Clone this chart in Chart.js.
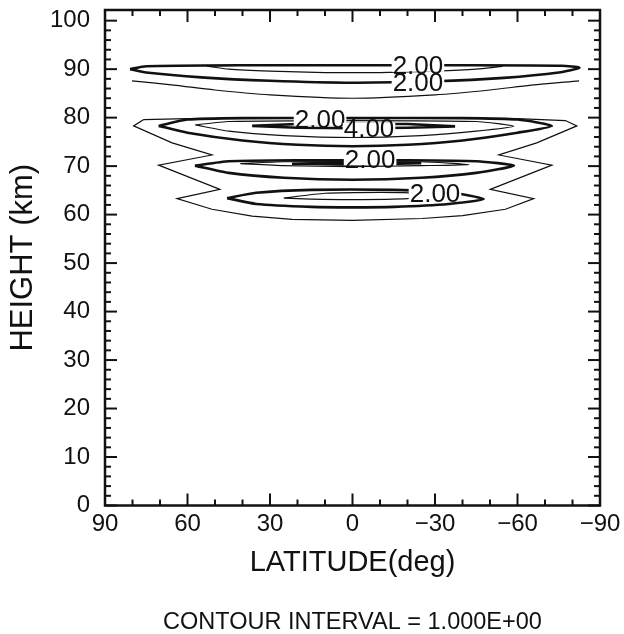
<!DOCTYPE html>
<html>
<head>
<meta charset="utf-8">
<script src="https://cdn.jsdelivr.net/npm/chart.js@4.4.1/dist/chart.umd.min.js"></script>
<style>
  body { margin: 0; background: #fff; }
</style>
</head>
<body>
<canvas id="chart" width="624" height="634"></canvas>
<script>
const FONT = "'Liberation Sans', Arial, sans-serif";
const INK = '#111';

// axis ticks
const latTicks = [90, 60, 30, 0, -30, -60, -90];
const latMinorStep = 10;
const heightTicks = [0, 10, 20, 30, 40, 50, 60, 70, 80, 90, 100];
const heightMinorStep = 2;

// contour lines, [latitude, height] pairs
// ~90 km layer
const upperLev1 = [[80.2, 87.6], [65, 86.7], [50, 85.7], [30, 84.7], [0, 84.0], [-30, 84.7], [-50, 85.7], [-65, 86.7], [-82.4, 87.6]];
const upperLev2 = [[80.9, 90.0], [75, 90.6], [40, 90.8], [0, 90.8], [-40, 90.8], [-76, 90.7], [-82.5, 90.3],
                   [-75, 89.3], [-55, 88.2], [-30, 87.5], [0, 87.2], [30, 87.6], [55, 88.3], [75, 89.3]];
const upperLev3 = [[53, 90.6], [40, 90.8], [0, 90.9], [-40, 90.8], [-54.4, 90.6],
                   [-45, 90.0], [-30, 89.6], [-10, 89.3], [10, 89.3], [30, 89.6], [45, 90.0]];

// 60-80 km layers, outer contour wraps all three
const lowerLev1 = [[75.9, 79.6], [60, 79.8], [30, 79.9], [0, 79.9], [-30, 79.9], [-60, 79.8], [-77.4, 79.4], [-81.6, 78.3],
                   [-67, 74.8], [-53.2, 72.3], [-72.5, 70.2], [-50.1, 65.2], [-65.9, 63.3], [-55.6, 61.1], [-40, 59.8],
                   [-25.3, 59.2], [0, 58.8], [22, 59.0], [36.5, 59.7], [51.1, 61.1], [63.8, 63.3], [48.2, 65.2],
                   [70.5, 70.2], [51.1, 72.3], [65.6, 74.8], [79.6, 78.3]];
const l78Lev2 = [[70.5, 78.3], [60, 79.6], [40, 79.9], [0, 79.9], [-40, 79.9], [-60, 79.6], [-72.5, 78.3],
                 [-60, 76.9], [-40, 75.3], [-20, 74.4], [0, 74.1], [20, 74.4], [40, 75.3], [60, 76.9]];
const l78Lev3 = [[57.2, 78.5], [45, 79.2], [0, 79.4], [-45, 79.2], [-58.6, 78.2],
                 [-45, 77.2], [-25, 76.3], [0, 75.9], [25, 76.3], [45, 77.2]];
const l78Lev4 = [[36.5, 78.3], [20, 78.7], [-20, 78.7], [-37.3, 78.2], [-20, 77.9], [0, 77.8], [20, 77.9]];
const l70Lev2 = [[57.3, 70.1], [45, 71.0], [20, 71.2], [-20, 71.2], [-45, 71.0], [-58.7, 70.1],
                 [-45, 68.6], [-25, 67.6], [0, 67.2], [25, 67.6], [45, 68.6]];
const l70Lev3 = [[40.8, 70.5], [25, 70.9], [-25, 70.9], [-42.4, 70.3], [-25, 70.1], [0, 69.9], [25, 70.1]];
const l70Lev4 = [[22, 70.5], [0, 70.8], [-25, 70.6], [0, 70.3]];
const l63Lev2 = [[45.6, 63.4], [35, 64.5], [15, 65.1], [-15, 65.1], [-35, 64.6], [-47.7, 63.2],
                 [-35, 62.2], [-15, 61.6], [0, 61.5], [15, 61.6], [35, 62.2]];
const l63Lev3 = [[25, 63.4], [10, 64.4], [-10, 64.6], [-25, 64.4], [-30, 64.0], [-20, 63.3], [0, 63.1], [15, 63.2]];

// contour labels
const labelLat = [-23.8, -23.8, 11.8, -6.0, -6.4, -30.0];
const labelHeight = [90.7, 87.2, 79.6, 77.7, 71.4, 64.3];
const labelLevel = [2, 2, 2, 4, 2, 2];

const closed = pts => pts.concat([pts[0]]);

// the zigzag outline keeps straight segments, the lenses are smoothed a little
const contours = [
  { pts: upperLev1, level: 1, tension: 0.3 },
  { pts: closed(upperLev2), level: 2, tension: 0.2 },
  { pts: closed(upperLev3), level: 3, tension: 0.2 },
  { pts: closed(lowerLev1), level: 1, tension: 0 },
  { pts: closed(l78Lev2), level: 2, tension: 0.2 },
  { pts: closed(l78Lev3), level: 3, tension: 0.2 },
  { pts: closed(l78Lev4), level: 4, tension: 0 },
  { pts: closed(l70Lev2), level: 2, tension: 0.2 },
  { pts: closed(l70Lev3), level: 3, tension: 0.2 },
  { pts: closed(l70Lev4), level: 4, tension: 0 },
  { pts: closed(l63Lev2), level: 2, tension: 0.2 },
  { pts: closed(l63Lev3), level: 3, tension: 0.2 }
];

// labels, inward ticks on all four sides and the frame
const frameAndLabels = {
  id: 'frameAndLabels',
  afterDatasetsDraw(chart) {
    const { ctx, chartArea: a, scales: { x, y } } = chart;
    ctx.save();

    ctx.font = `26px ${FONT}`;
    ctx.textAlign = 'center';
    ctx.textBaseline = 'middle';
    labelLat.forEach((lat, i) => {
      const px = x.getPixelForValue(lat);
      const py = y.getPixelForValue(labelHeight[i]);
      const text = labelLevel[i].toFixed(2);
      const w = ctx.measureText(text).width;
      ctx.fillStyle = '#fff';
      ctx.fillRect(px - w / 2 - 1, py - 6, w + 2, 12);
      ctx.fillStyle = INK;
      ctx.fillText(text, px, py + 1);
    });

    ctx.strokeStyle = INK;
    ctx.lineWidth = 2;
    const seg = (x1, y1, x2, y2) => {
      ctx.beginPath();
      ctx.moveTo(x1, y1);
      ctx.lineTo(x2, y2);
      ctx.stroke();
    };
    const latLo = Math.min(...latTicks), latHi = Math.max(...latTicks);
    for (let v = latLo; v <= latHi; v += latMinorStep) {
      const px = x.getPixelForValue(v);
      const len = latTicks.includes(v) ? 12 : 6;
      seg(px, a.bottom, px, a.bottom - len);
      seg(px, a.top, px, a.top + len);
    }
    const hHi = heightTicks[heightTicks.length - 1];
    for (let v = heightTicks[0]; v <= hHi; v += heightMinorStep) {
      const py = y.getPixelForValue(v);
      const len = heightTicks.includes(v) ? 12 : 6;
      seg(a.left, py, a.left + len, py);
      seg(a.right, py, a.right - len, py);
    }
    ctx.lineWidth = 2.5;
    ctx.strokeRect(a.left, a.top, a.right - a.left, a.bottom - a.top);
    ctx.restore();
  }
};

const ctx = document.getElementById('chart').getContext('2d');
new Chart(ctx, {
  type: 'scatter',
  data: {
    datasets: contours.map(c => ({
      data: c.pts.map(([lat, h]) => ({ x: lat, y: h })),
      showLine: true,
      borderColor: INK,
      borderWidth: c.level % 2 === 0 ? 2.6 : 1.2,
      pointRadius: 0,
      tension: c.tension,
      fill: false
    }))
  },
  options: {
    responsive: false,
    animation: false,
    devicePixelRatio: 1,
    layout: { autoPadding: false, padding: { top: 10, right: 24, left: 0, bottom: 0 } },
    plugins: {
      legend: { display: false },
      tooltip: { enabled: false },
      title: {
        display: true,
        position: 'bottom',
        fullSize: false,
        text: 'CONTOUR INTERVAL = 1.000E+00',
        color: INK,
        font: { family: FONT, size: 23.5, weight: 'normal', lineHeight: 1 },
        padding: { top: 33, bottom: 0 }
      }
    },
    scales: {
      x: {
        type: 'linear',
        reverse: true,
        min: latTicks[latTicks.length - 1],
        max: latTicks[0],
        afterFit: s => { s.height = 72; s.paddingLeft = 0; s.paddingRight = 0; },
        afterBuildTicks: s => { s.ticks = latTicks.map(v => ({ value: v })); },
        grid: { display: false, drawTicks: false },
        border: { display: false },
        ticks: {
          padding: 4,
          color: INK,
          font: { family: FONT, size: 24 },
          callback: v => String(v).replace('-', '\u2212')
        },
        title: {
          display: true,
          text: 'LATITUDE(deg)',
          color: INK,
          font: { family: FONT, size: 29, lineHeight: 1 },
          padding: { top: 0, bottom: 0 }
        }
      },
      y: {
        min: 0,
        max: 102.2,
        afterFit: s => { s.width = 105; s.paddingTop = 0; s.paddingBottom = 0; },
        afterBuildTicks: s => { s.ticks = heightTicks.map(v => ({ value: v })); },
        grid: { display: false, drawTicks: false },
        border: { display: false },
        ticks: {
          padding: 15,
          color: INK,
          font: { family: FONT, size: 24 }
        },
        title: {
          display: true,
          text: 'HEIGHT (km)',
          color: INK,
          font: { family: FONT, size: 31, lineHeight: 1 },
          padding: { top: 8, bottom: 0 }
        }
      }
    }
  },
  plugins: [frameAndLabels]
});
</script>
</body>
</html>
